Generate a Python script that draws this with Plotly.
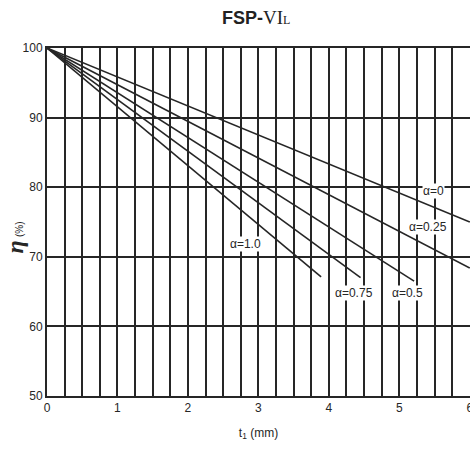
import plotly.graph_objects as go

# Data: each line runs from t1=0, eta=100 to its end point
alphas = ["0", "0.25", "0.5", "0.75", "1.0"]
t_start = [0, 0, 0, 0, 0]
eta_start = [100, 100, 100, 100, 100]
t_end = [6.0, 6.0, 5.21, 4.45, 3.89]
eta_end = [75.0, 68.4, 66.5, 67.0, 67.1]

# label positions (data coords)
label_t = [5.48, 5.40, 5.12, 4.36, 2.81]
label_eta = [79.4, 74.3, 64.8, 64.8, 71.8]

x_ticks = [0, 1, 2, 3, 4, 5, 6]
y_ticks = [50, 60, 70, 80, 90, 100]

NARROW = "Liberation Sans Narrow, Liberation Sans, Arial, sans-serif"
INK = "#262626"

fig = go.Figure()
for i, a in enumerate(alphas):
    fig.add_trace(go.Scatter(
        x=[t_start[i], t_end[i]], y=[eta_start[i], eta_end[i]],
        mode="lines", line=dict(color=INK, width=1.6),
        showlegend=False, hoverinfo="skip", cliponaxis=True))

for i, a in enumerate(alphas):
    fig.add_annotation(x=label_t[i], y=label_eta[i], text="α=" + a,
                       showarrow=False, bgcolor="white",
                       font=dict(family=NARROW, size=12, color=INK),
                       borderpad=0)

fig.add_annotation(xref="paper", yref="paper", x=-0.076, y=0.455,
                   xanchor="center", yanchor="middle", textangle=-90,
                   showarrow=False,
                   text="<i><b><span style='font-family:Liberation Serif;font-size:24px'>η</span></b></i> <span style='font-size:10px'>(%)</span>",
                   font=dict(family=NARROW, size=12, color=INK))

fig.update_layout(
    width=470, height=450,
    margin=dict(l=47, r=0, t=48, b=54),
    paper_bgcolor="white", plot_bgcolor="white",
    hovermode=False,
    title=dict(
        text="<b>FSP-</b><span style='font-family:Liberation Serif;font-size:19px'>VI<span style='font-size:12px'>L</span></span>",
        x=0.545, xanchor="center", y=0.96, yanchor="middle",
        font=dict(family="Liberation Sans, Arial, sans-serif", size=18, color="#222")),
    xaxis=dict(range=[0, 6.003], tickvals=x_ticks, ticktext=[str(v) for v in x_ticks],
               automargin=False, ticklabeloverflow="allow",
               showgrid=True, gridcolor=INK, gridwidth=2,
               minor=dict(dtick=0.25, showgrid=True, gridcolor=INK, gridwidth=2, ticks=""),
               showline=True, linecolor=INK, linewidth=2, mirror=True,
               ticks="", zeroline=False,
               tickfont=dict(family=NARROW, size=12, color=INK),
               title=dict(text="t<sub>1</sub> (mm)", standoff=14,
                          font=dict(family=NARROW, size=12, color=INK))),
    yaxis=dict(range=[50, 100], tickvals=y_ticks, ticktext=[str(v) for v in y_ticks],
               automargin=False,
               showgrid=True, gridcolor=INK, gridwidth=2,
               showline=True, linecolor=INK, linewidth=2,
               ticks="", zeroline=False,
               tickfont=dict(family=NARROW, size=12, color=INK)),
)

fig.write_html("out.html", config={"displayModeBar": False},
               post_script="document.body.style.margin='0';document.body.style.padding='0';")
